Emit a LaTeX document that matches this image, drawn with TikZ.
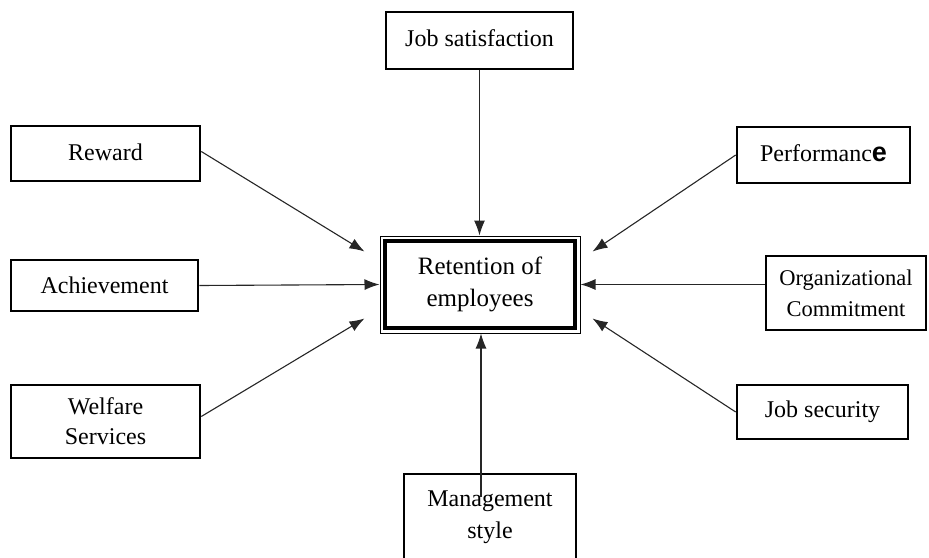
\documentclass[tikz,border=0pt]{standalone}
\usepackage{fontspec}
\setmainfont{Liberation Serif}
\newfontfamily\perfsans{Liberation Sans}
\usetikzlibrary{arrows.meta,calc}
\tikzset{
  box/.style={draw=black, line width=2.6pt, fill=white, align=center, inner sep=0pt,
    font=\fontsize{24}{28}\selectfont},
  conn/.style={draw=black!85, line width=1.1pt, -{Latex[length=15pt,width=11pt]}}
}
\begin{document}
\begin{tikzpicture}[x=1pt,y=-1pt]
\useasboundingbox (0,0) rectangle (929,557);
\clip (0,0) rectangle (929,557);
% nodes
\node[box, minimum width=187pt, minimum height=57pt] (js) at (479.5,40.5) {\raisebox{5pt}{Job satisfaction}};
\node[box, minimum width=189pt, minimum height=55pt] (rew) at (105.5,153.5) {\raisebox{3pt}{Reward}};
\node[box, minimum width=173pt, minimum height=56pt] (perf) at (823.5,155) {\raisebox{3pt}{Performanc{\perfsans\bfseries\fontsize{27}{27}\selectfont e}}};
\node[box, minimum width=187pt, minimum height=51pt] (ach) at (104.5,285.5) {Achievement};
\node[draw=black, line width=1pt, fill=white, minimum width=200pt, minimum height=97pt, inner sep=0pt] (retout) at (480,284.5) {};
\node[box, line width=3.2pt, minimum width=190pt, minimum height=87pt,
      font=\fontsize{25}{32}\selectfont] (ret) at (480,284.5) {Retention of\\employees};
\node[box, minimum width=160pt, minimum height=74pt,
      font=\fontsize{22.5}{29}\selectfont] (org) at (846,293) {\raisebox{2pt}{Organizational}\\Commitment};
\node[box, minimum width=189pt, minimum height=73pt,
      font=\fontsize{24}{30}\selectfont] (wel) at (105.5,421.5) {\raisebox{-4pt}{Welfare}\\\raisebox{-4pt}{Services}};
\node[box, minimum width=171pt, minimum height=54pt] (jsec) at (822.5,412) {\raisebox{3pt}{Job security}};
% connector end points
\coordinate (tRew) at ($(retout.north west)+(-15,16)$);
\coordinate (tPerf) at ($(retout.north east)+(12,16)$);
\coordinate (tWel) at ($(retout.south west)+(-15,-15)$);
\coordinate (tJsec) at ($(retout.south east)+(12,-15)$);
\coordinate (sRew) at ($(rew.east)+(0,-2)$);
\coordinate (sWel) at ($(wel.east)+(0,-5)$);
% connectors
\draw[conn] (js.south) -- (js.south |- retout.north);
\draw[conn] (sRew) -- (tRew);
\draw[conn] (perf.west) -- (tPerf);
\draw[conn] (ach.east) -- (retout.west);
\draw[conn] (org.west |- retout.east) -- (retout.east);
\draw[conn] (sWel) -- (tWel);
\draw[conn] (jsec.west) -- (tJsec);
% management style box (cut off at bottom)
\node[box, fill=none, minimum width=172pt, minimum height=86pt,
      font=\fontsize{24}{32}\selectfont] (mgmt) at (490,517) {Management\\style};
\coordinate (mStart) at ($(mgmt.north)+(-9,24)$);
\draw[conn] (mStart) -- (mStart |- retout.south);
\end{tikzpicture}
\end{document}
